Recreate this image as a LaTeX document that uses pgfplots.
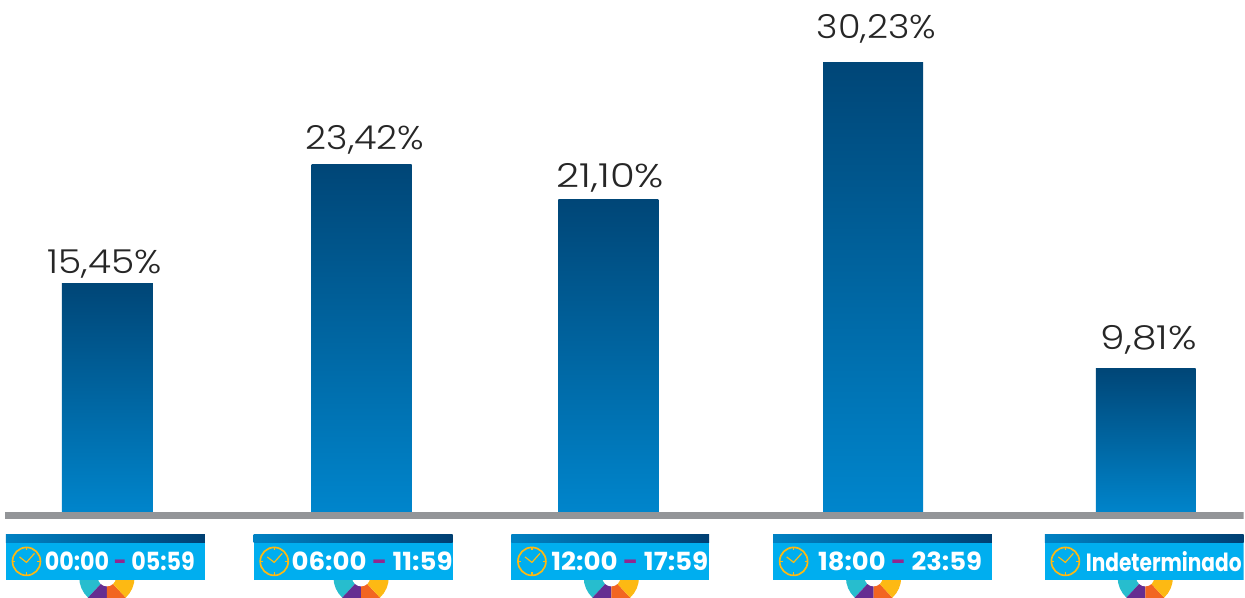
\documentclass[border=0pt]{standalone}
\usepackage{fontspec}
\setmainfont{Poppins}
\newfontfamily\labelfont{Poppins Light}
\usepackage{pgfplots}
\pgfplotsset{compat=1.18}

\definecolor{barTop}{HTML}{004677}
\definecolor{barBot}{HTML}{0086CD}
\definecolor{bandBlue}{HTML}{00AEEF}
\definecolor{stripeL}{HTML}{0082C4}
\definecolor{stripeR}{HTML}{003F72}
\definecolor{baseGray}{HTML}{939598}
\definecolor{dashPurple}{HTML}{92278F}
\definecolor{clockYellow}{HTML}{FDB913}
\definecolor{wheelTeal}{HTML}{27BDCE}
\definecolor{wheelPurple}{HTML}{662D91}
\definecolor{wheelOrange}{HTML}{F26522}
\definecolor{wheelYellow}{HTML}{FDB913}

% #1 left, #2 right, #3 wheel centre, all in image pixels
\newcommand{\band}[3]{%
  \fill[wheelTeal] (#3,-578) -- ++(180:27.7) arc (180:227:27.7) -- cycle;
  \fill[wheelPurple] (#3,-578) -- ++(227:27.7) arc (227:270:27.7) -- cycle;
  \fill[wheelOrange] (#3,-578) -- ++(270:27.7) arc (270:313:27.7) -- cycle;
  \fill[wheelYellow] (#3,-578) -- ++(313:27.7) arc (313:360:27.7) -- cycle;
  \fill[white] (#3,-578) circle (9);
  \fill[bandBlue] (#1,-581) rectangle (#2,-543);
  \shade[left color=stripeL, right color=stripeR] (#1,-543) rectangle (#2,-535);
  \begin{scope}[shift={(#1+20.5,-562)}]
    \draw[clockYellow, line width=1.7pt] (0,0) circle (14);
    \draw[clockYellow, line width=1.2pt] (-7,4.5) -- (0,-1) -- (8,8);
    \draw[clockYellow, line width=1.2pt] (0,14) -- (0,11) (0,-14) -- (0,-11) (14,0) -- (11,0) (-14,0) -- (-11,0);
  \end{scope}
}
% tick label squeezed to the width it has in the picture
\newcommand{\tl}[2]{\resizebox{#1pt}{\height}{#2}}
\newcommand{\dash}{{\color{dashPurple}-}}

\begin{document}
\begin{tikzpicture}
\begin{scope}[x=1pt,y=1pt,yshift=598pt]
  \clip (0,-598) rectangle (1245,0);
  \band{6}{205}{107}
  \band{254}{453}{361.5}
  \band{512}{710}{612}
  \band{774}{993}{874.5}
  \band{1046}{1245}{1146.5}
\end{scope}
\begin{axis}[
    at={(0pt,0pt)}, anchor=south west,
    scale only axis,
    width=1245pt, height=598pt,
    xmin=0, xmax=1245,
    ymin=-5.4225, ymax=34.365,
    axis line style={draw=none},
    tick style={draw=none},
    ytick=\empty,
    xtick={120,372.5,630.5,901,1165},
    xticklabels={
      \tl{150}{00:00 \dash{} 05:59},
      \tl{161}{06:00 \dash{} 11:59},
      \tl{157}{12:00 \dash{} 17:59},
      \tl{164}{18:00 \dash{} 23:59},
      \tl{156}{Indeterminado}},
    xticklabel style={anchor=center, yshift=36pt, text=white,
      font=\fontsize{25}{25}\selectfont\bfseries},
    every node near coord/.append style={anchor=south, text=black!85,
      font=\fontsize{33}{33}\selectfont\labelfont},
    point meta=y,
    % bar width, label x-stretch, label xshift, label yshift
    bar/.style n args={4}{ybar, bar shift=0pt, bar width=#1, draw=none, shade,
      top color=barTop, bottom color=barBot,
      every node near coord/.append style={xshift=#3, yshift=#4},
      nodes near coords={\scalebox{#2}[1]{\pgfmathprintnumber[fixed,fixed zerofill,precision=2,use comma,assume math mode=true]{\pgfplotspointmeta}\%}}},
]
\addplot[bar={91pt}{1.14}{-2.5pt}{2pt}] coordinates {(107.5,15.45)};
\addplot[bar={100pt}{1.11}{3.5pt}{6pt}] coordinates {(362,23.42)};
\addplot[bar={100pt}{1.22}{2pt}{3pt}] coordinates {(609,21.10)};
\addplot[bar={100pt}{1.11}{3.5pt}{15pt}] coordinates {(874,30.23)};
\addplot[bar={100pt}{1.19}{3pt}{11pt}] coordinates {(1147,9.81)};
\draw[baseGray, line width=7pt] (axis cs:5,0) -- (axis cs:1245,0);
\end{axis}
\end{tikzpicture}
\end{document}
